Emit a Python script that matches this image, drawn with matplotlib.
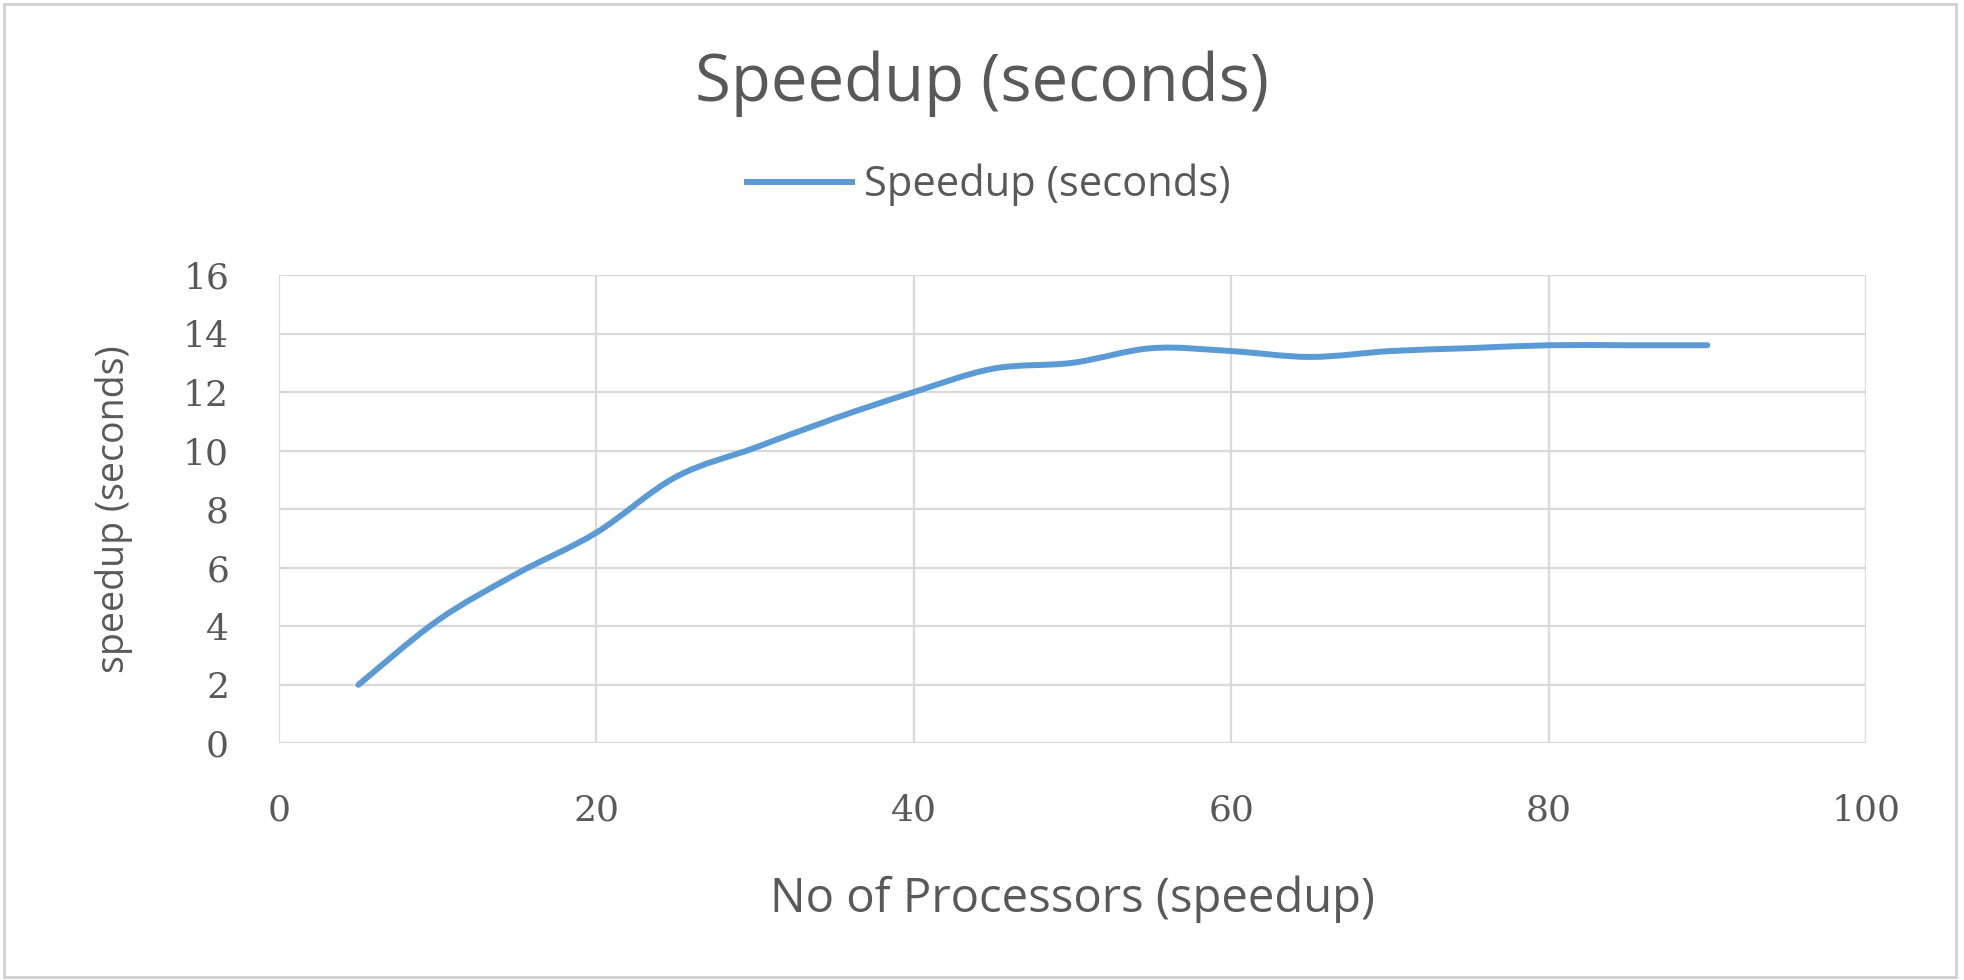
import matplotlib
matplotlib.use("Agg")
import matplotlib.pyplot as plt
from matplotlib.path import Path
from matplotlib.patches import PathPatch, Rectangle
from matplotlib.lines import Line2D

processors = [5, 10, 15, 20, 25, 30, 35, 40, 45, 50, 55, 60, 65, 70, 75, 80, 85, 90]
speedup = [2.0, 4.2, 5.8, 7.2, 9.1, 10.1, 11.1, 12.0, 12.8, 13.0, 13.5, 13.4, 13.2, 13.4, 13.5, 13.6, 13.6, 13.6]

x_ticks = [0, 20, 40, 60, 80, 100]
y_ticks = [0, 2, 4, 6, 8, 10, 12, 14, 16]

title = "Speedup (seconds)"
series_name = "Speedup (seconds)"
x_label = "No of Processors (speedup)"
y_label = "speedup (seconds)"

line_color = "#5B9BD5"
text_color = "#595959"
grid_color = "#D9D9D9"
sans = "Open Sans"
serif = "DejaVu Serif"


def smooth_path(xs, ys):
    # Excel-style smoothed line: cubic Bezier segments with Catmull-Rom control points
    pts = list(zip(xs, ys))
    n = len(pts)
    verts = [pts[0]]
    codes = [Path.MOVETO]
    for i in range(n - 1):
        p0 = pts[i - 1] if i > 0 else pts[i]
        p1 = pts[i]
        p2 = pts[i + 1]
        p3 = pts[i + 2] if i + 2 < n else pts[i + 1]
        c1 = (p1[0] + (p2[0] - p0[0]) / 6, p1[1] + (p2[1] - p0[1]) / 6)
        c2 = (p2[0] - (p3[0] - p1[0]) / 6, p2[1] - (p3[1] - p1[1]) / 6)
        verts += [c1, c2, p2]
        codes += [Path.CURVE4] * 3
    return Path(verts, codes)


fig = plt.figure(figsize=(19.64, 9.8), dpi=100)
fig.patches.append(Rectangle((0.002, 0.003), 0.994, 0.993, transform=fig.transFigure,
                             fill=False, edgecolor="#D0D0D0", linewidth=2))

ax = fig.add_axes([0.1421, 0.2415, 0.8080, 0.4779])
ax.set_xlim(0, 100)
ax.set_ylim(0, 16)
ax.set_xticks(x_ticks)
ax.set_yticks(y_ticks)
ax.grid(True, color=grid_color, linewidth=1.6)
ax.set_axisbelow(True)
for s in ax.spines.values():
    s.set_visible(False)
ax.tick_params(length=0, colors=text_color, labelsize=26)
ax.tick_params(axis="x", pad=36)
ax.tick_params(axis="y", pad=36)
for lab in ax.get_xticklabels() + ax.get_yticklabels():
    lab.set_family(serif)

patch = PathPatch(smooth_path(processors, speedup), fill=False, edgecolor=line_color,
                  linewidth=4.3, capstyle="round", joinstyle="round")
ax.add_patch(patch)

ax.set_xlabel(x_label, fontsize=34, color=text_color, family=sans, va="center")
ax.xaxis.set_label_coords(0.5, -0.333)
ax.set_ylabel(y_label, fontsize=27, color=text_color, family=sans, va="center")
ax.yaxis.set_label_coords(-0.104, 0.5)

fig.text(0.5, 0.915, title, ha="center", va="center", fontsize=47,
         color=text_color, family=sans)

handle = Line2D([], [], color=line_color, linewidth=4.3)
fig.legend([handle], [series_name], loc="center", bbox_to_anchor=(0.5036, 0.811),
           frameon=False, handlelength=2.5, handletextpad=0.3,
           labelcolor=text_color, prop={"family": sans, "size": 30})

fig.savefig("out.png", dpi=100)
